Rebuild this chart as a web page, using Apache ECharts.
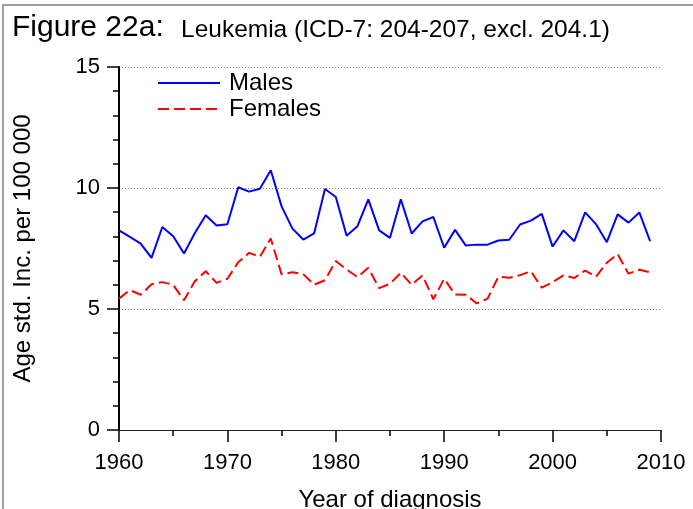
<!DOCTYPE html>
<html>
<head>
<meta charset="utf-8">
<script src="https://cdn.jsdelivr.net/npm/echarts@6/dist/echarts.min.js"></script>
<style>
  html, body { margin: 0; padding: 0; background: #fff; overflow: hidden; }
  #chart { width: 693px; height: 509px; }
</style>
</head>
<body>
<div id="chart"></div>
<script>
// Leukemia incidence, age standardised per 100 000, by year of diagnosis
const years = [
  1960, 1961, 1962, 1963, 1964, 1965, 1966, 1967, 1968, 1969,
  1970, 1971, 1972, 1973, 1974, 1975, 1976, 1977, 1978, 1979,
  1980, 1981, 1982, 1983, 1984, 1985, 1986, 1987, 1988, 1989,
  1990, 1991, 1992, 1993, 1994, 1995, 1996, 1997, 1998, 1999,
  2000, 2001, 2002, 2003, 2004, 2005, 2006, 2007, 2008, 2009
];
const males = [
  8.25, 7.98, 7.70, 7.11, 8.39, 8.01, 7.29, 8.14, 8.87, 8.45,
  8.50, 10.03, 9.85, 9.97, 10.73, 9.24, 8.32, 7.87, 8.12, 9.96,
  9.63, 8.03, 8.42, 9.53, 8.25, 7.94, 9.53, 8.12, 8.62, 8.80,
  7.53, 8.27, 7.62, 7.66, 7.66, 7.83, 7.86, 8.49, 8.65, 8.93,
  7.58, 8.25, 7.80, 8.99, 8.51, 7.76, 8.91, 8.57, 8.99, 7.80
];
const females = [
  5.43, 5.78, 5.59, 6.02, 6.11, 6.00, 5.36, 6.15, 6.56, 6.08,
  6.25, 6.93, 7.32, 7.16, 7.91, 6.43, 6.52, 6.44, 6.00, 6.19,
  6.98, 6.63, 6.32, 6.70, 5.86, 6.04, 6.50, 6.00, 6.39, 5.40,
  6.25, 5.60, 5.59, 5.23, 5.43, 6.33, 6.29, 6.40, 6.56, 5.88,
  6.11, 6.39, 6.28, 6.59, 6.33, 6.91, 7.27, 6.46, 6.62, 6.52
];
const xTicks = [1960, 1970, 1980, 1990, 2000, 2010];
const yTicks = [0, 5, 10, 15];

const FONT = '"Liberation Sans", Arial, sans-serif';
const pairs = (vals) => years.map((y, i) => [y, vals[i]]);

const chart = echarts.init(document.getElementById('chart'), null, { renderer: 'canvas' });
chart.setOption({
  backgroundColor: '#ffffff',
  animation: false,
  textStyle: { fontFamily: FONT, color: '#000' },
  graphic: [
    {
      type: 'rect', silent: true, z: -1,
      shape: { x: 3, y: 5, width: 720, height: 600 },
      style: { fill: 'none', stroke: '#808080', lineWidth: 1.5 }
    },
    {
      type: 'text', left: 12, top: 13,
      style: { text: 'Figure 22a:', font: '30px ' + FONT, fill: '#000' }
    },
    {
      type: 'text', left: 181, top: 18,
      style: { text: 'Leukemia (ICD-7: 204-207, excl. 204.1)', font: '24.5px ' + FONT, fill: '#000' }
    }
  ],
  grid: {
    left: 119, width: 542, top: 67, height: 363,
    containLabel: false, outerBoundsMode: 'none'
  },
  legend: {
    orient: 'vertical',
    left: 157, top: 71, padding: 0,
    itemWidth: 62, itemHeight: 14, itemGap: 2,
    itemStyle: { opacity: 0 },
    textStyle: { fontFamily: FONT, fontSize: 24, color: '#000', padding: [0, 0, 0, 4] },
    data: ['Males', 'Females']
  },
  xAxis: {
    type: 'value',
    min: xTicks[0], max: xTicks[xTicks.length - 1], interval: 10,
    name: 'Year of diagnosis',
    nameLocation: 'middle', nameGap: 58,
    nameTextStyle: { fontFamily: FONT, fontSize: 24, color: '#000' },
    axisLine: { show: true, onZero: false, lineStyle: { color: '#222', width: 1 } },
    axisTick: { show: true, inside: false, length: 12, lineStyle: { color: '#000', width: 1.5 } },
    minorTick: { show: true, splitNumber: 2, length: 6, lineStyle: { color: '#000', width: 1.5 } },
    axisLabel: { fontFamily: FONT, fontSize: 22, color: '#000', margin: 22, formatter: (v) => String(v) },
    splitLine: { show: false }
  },
  yAxis: {
    type: 'value',
    min: yTicks[0], max: yTicks[yTicks.length - 1], interval: 5,
    name: 'Age std. Inc. per 100 000',
    nameLocation: 'middle', nameGap: 84,
    nameTextStyle: { fontFamily: FONT, fontSize: 24, color: '#000' },
    axisLine: { show: true, lineStyle: { color: '#000', width: 2 } },
    axisTick: { show: true, inside: false, length: 12, lineStyle: { color: '#000', width: 1.5 } },
    minorTick: { show: true, splitNumber: 5, length: 6, lineStyle: { color: '#000', width: 1.5 } },
    axisLabel: { fontFamily: FONT, fontSize: 22, color: '#000', margin: 19 },
    splitLine: { show: true, lineStyle: { color: '#888', width: 1, type: [1, 2] } }
  },
  series: [
    {
      name: 'Males', type: 'line', data: pairs(males),
      symbol: 'none', showSymbol: false,
      lineStyle: { color: '#0000ff', width: 2 },
      itemStyle: { color: '#0000ff' }
    },
    {
      name: 'Females', type: 'line', data: pairs(females),
      symbol: 'none', showSymbol: false,
      lineStyle: { color: '#ff0000', width: 2, type: [11, 5] },
      itemStyle: { color: '#ff0000' }
    }
  ]
});
</script>
</body>
</html>
